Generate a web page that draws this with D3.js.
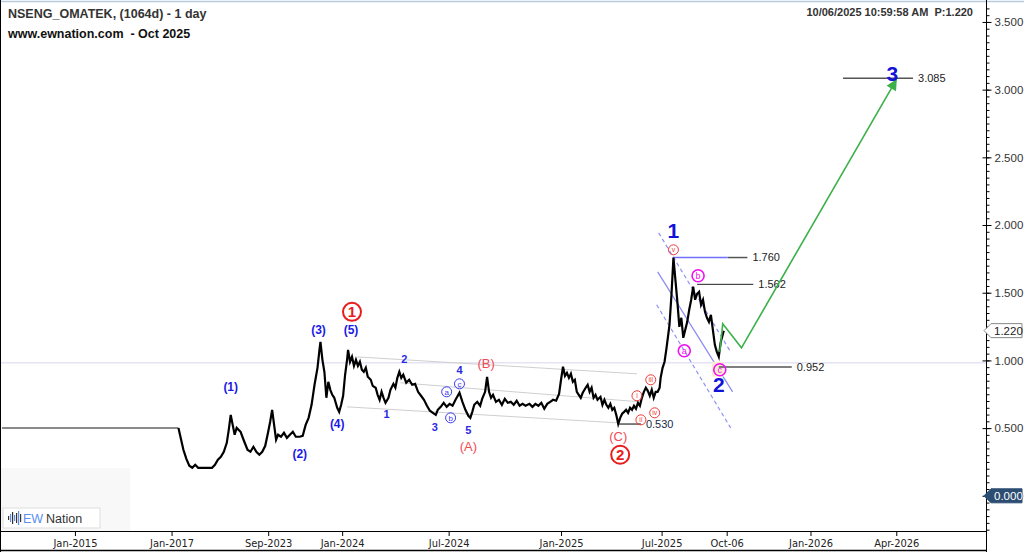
<!DOCTYPE html>
<html>
<head>
<meta charset="utf-8">
<script src="https://cdn.jsdelivr.net/npm/d3@7"></script>
<style>
body { margin: 0; background: #fff; }
svg { display: block; font-family: Arial, "Liberation Sans", sans-serif; }
</style>
</head>
<body>
<div id="chart"></div>
<script>
// x ticks (bar index) and labels
const tickBars = [76, 174, 272, 347, 455, 569, 671, 737, 822, 909];
const tickLabels = ["Jan-2015", "Jan-2017", "Sep-2023", "Jan-2024", "Jul-2024", "Jan-2025", "Jul-2025", "Oct-06", "Jan-2026", "Apr-2026"];
const yTicks = [0, 0.5, 1, 1.5, 2, 2.5, 3, 3.5];

// suspended period, flat at 0.500
const flatBars = [2, 181];
const flatValues = [0.5, 0.5];

// daily closes
const priceBars = [181, 183, 186, 189, 192, 195, 198, 201, 208, 215, 218, 221, 224, 227, 230, 232, 234, 236, 238, 240,
  242, 244, 247, 251, 254, 257, 260, 263, 266, 269, 272, 274, 276, 278, 280, 282, 285, 288, 291, 294,
  297, 300, 304, 307, 310, 313, 316, 319, 322, 324, 325, 327, 329, 331, 333, 335, 337, 339, 342, 344,
  346, 348, 350, 352, 353, 355, 357, 359, 361, 363, 365, 367, 369, 371, 373, 376, 378, 381, 383, 385,
  387, 389, 391, 394, 396, 399, 401, 403, 405, 407, 409, 412, 415, 418, 421, 424, 427, 430, 433, 436,
  439, 442, 444, 447, 450, 453, 456, 459, 462, 466, 469, 472, 475, 477, 479, 481, 484, 487, 489, 492,
  494, 496, 498, 500, 503, 506, 509, 512, 515, 518, 521, 524, 527, 530, 533, 537, 540, 543, 546, 549,
  552, 555, 558, 561, 564, 567, 569, 571, 573, 575, 577, 579, 581, 583, 585, 587, 589, 591, 594, 596,
  598, 600, 602, 604, 606, 609, 611, 613, 615, 617, 619, 621, 623, 625, 627, 629, 631, 633, 635, 637,
  639, 641, 643, 645, 647, 649, 651, 653, 655, 657, 659, 661, 663, 665, 667, 669, 670, 672, 674, 676,
  679, 681, 683, 685, 687, 689, 691, 693, 695, 697, 699, 701, 703, 705, 707, 709, 711, 713, 715, 717,
  719, 721, 723, 725, 727, 729, 731, 733, 734];
const priceValues = [0.500, 0.436, 0.340, 0.273, 0.222, 0.207, 0.229, 0.207, 0.207, 0.207, 0.229, 0.266, 0.288, 0.325, 0.391, 0.487, 0.598, 0.524, 0.451, 0.502,
  0.487, 0.473, 0.414, 0.340, 0.325, 0.362, 0.325, 0.303, 0.325, 0.369, 0.473, 0.547, 0.635, 0.524, 0.414, 0.451, 0.436, 0.465, 0.428, 0.451,
  0.473, 0.436, 0.436, 0.443, 0.524, 0.576, 0.672, 0.820, 0.945, 1.078, 1.137, 1.004, 0.916, 0.724, 0.842, 0.783, 0.746, 0.724, 0.650, 0.620,
  0.672, 0.739, 0.894, 1.004, 1.078, 0.990, 1.027, 0.960, 1.004, 0.960, 0.990, 0.931, 0.916, 0.945, 0.879, 0.857, 0.812, 0.798, 0.746, 0.709,
  0.768, 0.724, 0.687, 0.724, 0.783, 0.827, 0.798, 0.871, 0.916, 0.871, 0.894, 0.835, 0.857, 0.820, 0.827, 0.768, 0.739, 0.709, 0.665, 0.628,
  0.613, 0.598, 0.635, 0.657, 0.687, 0.657, 0.679, 0.665, 0.709, 0.761, 0.694, 0.635, 0.591, 0.576, 0.620, 0.672, 0.694, 0.665, 0.716, 0.768,
  0.879, 0.768, 0.724, 0.746, 0.694, 0.709, 0.672, 0.716, 0.687, 0.694, 0.672, 0.702, 0.665, 0.679, 0.665, 0.679, 0.657, 0.679, 0.665, 0.687,
  0.643, 0.679, 0.694, 0.709, 0.702, 0.753, 0.857, 0.953, 0.886, 0.908, 0.871, 0.901, 0.842, 0.857, 0.768, 0.746, 0.724, 0.761, 0.798, 0.820,
  0.768, 0.798, 0.724, 0.746, 0.709, 0.731, 0.672, 0.709, 0.672, 0.650, 0.679, 0.635, 0.650, 0.598, 0.530, 0.576, 0.606, 0.620, 0.635, 0.613,
  0.650, 0.635, 0.665, 0.643, 0.687, 0.665, 0.724, 0.768, 0.798, 0.775, 0.739, 0.783, 0.724, 0.768, 0.768, 0.798, 0.871, 0.945, 0.990, 1.093,
  1.263, 1.484, 1.760, 1.595, 1.433, 1.248, 1.315, 1.167, 1.226, 1.285, 1.374, 1.448, 1.544, 1.448, 1.492, 1.507, 1.411, 1.448, 1.359, 1.315,
  1.285, 1.337, 1.226, 1.115, 1.063, 1.027, 1.137, 1.189, 1.220];

// projected path towards wave 3
const projBars = [730, 733, 752, 909];
const projValues = [1.063, 1.270, 1.093, 3.072];

// price levels: value, start bar, end bar
const levelValues = [3.085, 1.760, 1.562, 0.952, 0.530];
const levelStart = [855, 738, 707, 729, 628];
const levelEnd = [926, 758, 764, 803, 650];

// channel lines (gray) and wave-2 channel (blue)
const channels = [
  [[362, 1.026], [646, 0.901]],
  [[406, 0.835], [649, 0.694]],
  [[352, 0.657], [626, 0.539]]
];
const blueDashed = [
  [[668, 1.942], [741, 1.063]],
  [[666, 1.411], [741, 0.502]]
];
const blueSolid = [[667, 1.654], [743, 0.768]];

// wave labels: text, bar, value, kind
const waveLabels = [
  ["(1)", 234, 0.805, "minor"], ["(2)", 304, 0.310, "minor"], ["(3)", 323, 1.226, "minor"],
  ["(4)", 342, 0.532, "minor"], ["(5)", 356, 1.226, "minor"],
  ["1", 392, 0.606, "minute"], ["2", 410, 1.012, "minute"], ["3", 441, 0.510, "minute"],
  ["4", 466, 0.931, "minute"], ["5", 475, 0.487, "minute"],
  ["(A)", 475, 0.369, "abc"], ["(B)", 493, 0.982, "abc"], ["(C)", 627, 0.436, "abc"],
  ["1", 683, 1.957, "big"], ["2", 729, 0.820, "big"], ["3", 905, 3.117, "big"]
];
const circledLabels = [
  ["1", 357, 1.359, "red"], ["2", 629, 0.303, "red"],
  ["a", 453, 0.768, "blue"], ["b", 457, 0.576, "blue"], ["c", 466, 0.827, "blue"],
  ["i", 646, 0.739, "small"], ["ii", 650, 0.561, "small"], ["iii", 660, 0.857, "small"],
  ["iv", 664, 0.613, "small"], ["v", 683, 1.817, "small"],
  ["a", 694, 1.071, "pink"], ["b", 708, 1.625, "pink"], ["c", 730, 0.931, "pink"]
];

function makeChart() {
    const width = 1024,
        height = 552,
        plotRight = 986,
        plotTop = 3,
        plotBottom = 531;

    const svg = d3.select('#chart').append('svg')
        .attr('width', width)
        .attr('height', height);

    const x = d3.scaleLinear().domain([0, 1000]).range([0, plotRight]);
    const y = d3.scaleLinear().domain([-0.26, 3.64]).range([plotBottom, plotTop]);

    const line = d3.line().x(d => x(d[0])).y(d => y(d[1]));

    // logo backdrop
    svg.append('rect').attr('x', 0).attr('y', 468).attr('width', 130).attr('height', plotBottom - 468)
        .attr('fill', '#f8f8f8');

    // faint horizontal line
    svg.append('line')
        .attr('x1', 0).attr('x2', plotRight)
        .attr('y1', y(0.982)).attr('y2', y(0.982))
        .attr('stroke', '#e4e4f4').attr('stroke-width', 1.5);

    // channels
    svg.append('g').selectAll('path').data(channels).enter().append('path')
        .attr('d', line).attr('stroke', '#cfcfcf').attr('stroke-width', 1).attr('fill', 'none');

    svg.append('g').selectAll('path').data(blueDashed).enter().append('path')
        .attr('d', line).attr('stroke', '#8f8ff5').attr('stroke-width', 1.2)
        .attr('stroke-dasharray', '4,3').attr('fill', 'none');
    svg.append('path').attr('d', line(blueSolid))
        .attr('stroke', '#8a8af2').attr('stroke-width', 1.2).attr('fill', 'none');

    // shaded box behind wave c
    svg.append('rect')
        .attr('x', x(722)).attr('y', y(0.99)).attr('width', x(734) - x(722)).attr('height', y(0.88) - y(0.99))
        .attr('fill', '#fdebd0');

    // levels
    const levels = levelValues.map((v, i) => ({ v: v, s: levelStart[i], e: levelEnd[i] }));
    const lv = svg.append('g').selectAll('g').data(levels).enter().append('g');
    lv.append('line')
        .attr('x1', d => x(d.s)).attr('x2', d => x(d.e))
        .attr('y1', d => y(d.v)).attr('y2', d => y(d.v))
        .attr('stroke', (d, i) => i === 2 ? '#222' : '#555')
        .attr('stroke-width', (d, i) => i === 2 ? 1 : 1.5);
    lv.append('text')
        .attr('x', d => x(d.e) + 5).attr('y', d => y(d.v))
        .attr('dy', '0.35em')
        .style('font-size', '11px').style('fill', (d, i) => i === 4 ? '#1d2b45' : '#222')
        .text(d => d.v.toFixed(3));
    // blue part of the 1.760 line
    svg.append('line')
        .attr('x1', x(683)).attr('x2', x(738))
        .attr('y1', y(1.76)).attr('y2', y(1.76))
        .attr('stroke', '#7070ff').attr('stroke-width', 1.5);

    // suspended flat line
    svg.append('path')
        .attr('d', line(flatBars.map((b, i) => [b, flatValues[i]])))
        .attr('stroke', '#8a8a8a').attr('stroke-width', 2).attr('fill', 'none');

    // price
    svg.append('path')
        .attr('d', line(priceBars.map((b, i) => [b, priceValues[i]])))
        .attr('stroke', '#000').attr('stroke-width', 2.2).attr('stroke-linejoin', 'miter')
        .attr('fill', 'none');

    // projection
    svg.append('defs').append('marker')
        .attr('id', 'arrow').attr('viewBox', '0 0 10 10')
        .attr('refX', 9).attr('refY', 5)
        .attr('markerWidth', 13).attr('markerHeight', 11)
        .attr('markerUnits', 'userSpaceOnUse')
        .attr('orient', 'auto')
        .append('path').attr('d', 'M0,0L10,5L0,10Z').attr('fill', '#3cb14a');
    svg.append('path')
        .attr('d', line(projBars.map((b, i) => [b, projValues[i]])))
        .attr('stroke', '#3cb14a').attr('stroke-width', 1.6).attr('fill', 'none')
        .attr('marker-end', 'url(#arrow)');

    // wave labels
    const labelStyle = {
        minor: { size: '12px', weight: 'bold', color: '#1a1ae6' },
        minute: { size: '11px', weight: 'bold', color: '#2a2ae6' },
        abc: { size: '13px', weight: 'normal', color: '#f24a55' },
        big: { size: '21px', weight: 'bold', color: '#1212d8' }
    };
    svg.append('g').selectAll('text').data(waveLabels).enter().append('text')
        .attr('x', d => x(d[1])).attr('y', d => y(d[2]))
        .attr('dy', '0.36em')
        .style('text-anchor', 'middle')
        .style('font-size', d => labelStyle[d[3]].size)
        .style('font-weight', d => labelStyle[d[3]].weight)
        .style('fill', d => labelStyle[d[3]].color)
        .text(d => d[0]);

    const circStyle = {
        red: { r: 9, sw: 2, color: '#e81c1c', size: '15px', weight: 'bold' },
        blue: { r: 5, sw: 1, color: '#3a3af0', size: '8px', weight: 'normal' },
        small: { r: 5, sw: 1, color: '#f03a3a', size: '7px', weight: 'normal' },
        pink: { r: 6, sw: 1.6, color: '#f010f0', size: '9px', weight: 'normal' }
    };
    const circ = svg.append('g').selectAll('g').data(circledLabels).enter().append('g')
        .attr('transform', d => 'translate(' + x(d[1]) + ',' + y(d[2]) + ')');
    circ.append('circle')
        .attr('r', d => circStyle[d[3]].r)
        .attr('fill', 'none')
        .attr('stroke', d => circStyle[d[3]].color)
        .attr('stroke-width', d => circStyle[d[3]].sw);
    circ.append('text')
        .attr('dy', '0.36em')
        .style('text-anchor', 'middle')
        .style('font-size', d => circStyle[d[3]].size)
        .style('font-weight', d => circStyle[d[3]].weight)
        .style('fill', d => circStyle[d[3]].color)
        .text(d => d[0]);

    // frame
    svg.append('line').attr('x1', 0).attr('x2', width).attr('y1', 1.5).attr('y2', 1.5)
        .attr('stroke', '#b8cce0').attr('stroke-width', 1.5);
    svg.append('line').attr('x1', 0.5).attr('x2', 0.5).attr('y1', 0).attr('y2', height)
        .attr('stroke', '#000');
    svg.append('line').attr('x1', 0).attr('x2', plotRight).attr('y1', 550.5).attr('y2', 550.5)
        .attr('stroke', '#000').attr('stroke-width', 1.5);

    // y axis
    const yAxisG = svg.append('g').attr('transform', 'translate(' + (plotRight + 0.5) + ',0)');
    const minorTicks = d3.range(-5, 73).map(i => i * 0.05);
    yAxisG.append('g')
        .call(d3.axisRight(y).tickValues(minorTicks).tickSize(3).tickFormat(''))
        .call(g => g.select('.domain').remove());
    yAxisG.append('g')
        .call(d3.axisRight(y).tickValues(yTicks).tickSize(5).tickPadding(3).tickFormat(d3.format('.3f')))
        .call(g => g.selectAll('.tick line').attr('x1', -4))
        .call(g => g.select('.domain').attr('d', 'M0,0V' + height))
        .call(g => g.selectAll('text').style('font-size', '11.5px').style('fill', '#333').style('font-family', 'Arial, "Liberation Sans", sans-serif'));

    // last price tag and zero tag
    function tag(v, fill, stroke, color) {
        const yy = y(v);
        svg.append('path')
            .attr('d', 'M' + (plotRight - 2) + ',' + yy + 'L' + (plotRight + 5) + ',' + (yy - 7) +
                'H1022V' + (yy + 7) + 'H' + (plotRight + 5) + 'Z')
            .attr('fill', fill).attr('stroke', stroke);
        svg.append('text')
            .attr('x', plotRight + 8).attr('y', yy).attr('dy', '0.36em')
            .style('font-size', '11.5px').style('fill', color)
            .text(v.toFixed(3));
    }
    tag(priceValues[priceValues.length - 1], '#fff', '#888', '#222');
    tag(0, '#2d4d73', '#2d4d73', '#fff');

    // x axis
    svg.append('g')
        .attr('transform', 'translate(0,' + plotBottom + ')')
        .call(d3.axisBottom(x).tickValues(tickBars).tickSize(5).tickPadding(3)
            .tickFormat((d, i) => tickLabels[i]))
        .call(g => g.select('.domain').attr('d', 'M0,0.5H' + plotRight).attr('stroke-width', 1.2))
        .call(g => g.selectAll('text').style('font-size', '11px').style('fill', '#222')
            .style('font-family', '"DejaVu Sans Condensed", "Liberation Sans Narrow", Arial, sans-serif'));

    // titles
    svg.append('text').attr('x', 8).attr('y', 18)
        .style('font-size', '12.5px').style('font-weight', 'bold').style('fill', '#333')
        .text('NSENG_OMATEK, (1064d) - 1 day');
    svg.append('text').attr('x', 8).attr('y', 38)
        .style('font-size', '12.5px').style('font-weight', 'bold').style('fill', '#111')
        .style('white-space', 'pre')
        .text('www.ewnation.com  - Oct 2025');
    svg.append('text').attr('x', 973).attr('y', 16)
        .style('font-size', '11px').style('font-weight', 'bold').style('fill', '#333')
        .style('text-anchor', 'end').style('white-space', 'pre')
        .text('10/06/2025 10:59:58 AM  P:1.220');

    // logo
    const logo = svg.append('g').attr('transform', 'translate(3,508)');
    logo.append('rect').attr('width', 97).attr('height', 20).attr('fill', '#fff').attr('stroke', '#ddd');
    const barsH = [4, 8, 12, 6, 10, 14, 8];
    logo.selectAll('.wb').data(barsH).enter().append('rect')
        .attr('x', (d, i) => 5 + i * 2).attr('y', d => 10 - d / 2)
        .attr('width', 1.2).attr('height', d => d)
        .attr('fill', (d, i) => i % 2 ? '#5b8ff0' : '#333');
    logo.append('text').attr('x', 20).attr('y', 15)
        .style('font-size', '12.5px').style('fill', '#5b8ff0').text('EW');
    logo.append('text').attr('x', 43).attr('y', 15)
        .style('font-size', '12.5px').style('fill', '#333').text('Nation');
}

makeChart();
</script>
</body>
</html>
